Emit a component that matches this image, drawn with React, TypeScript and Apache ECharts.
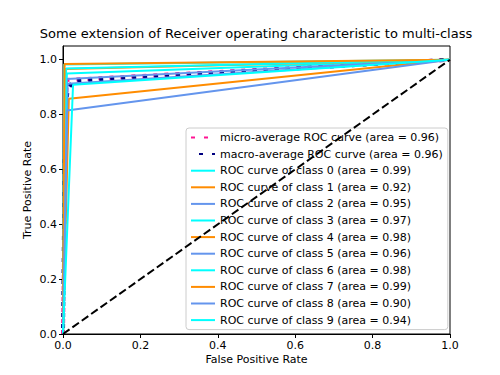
import React, { useEffect, useRef } from "react";
import * as echarts from "echarts";

const TITLE = "Some extension of Receiver operating characteristic to multi-class";
const X_NAME = "False Positive Rate";
const Y_NAME = "True Positive Rate";

const MICRO_POINTS: [number, number][] = [[0, 0], [0.009, 0.926], [1, 1]];
const MACRO_POINTS: [number, number][] = [
  [0, 0], [0.004, 0.6], [0.008, 0.84], [0.012, 0.89], [0.026, 0.923], [1, 1],
];

const CLASS_AREAS = [0.99, 0.92, 0.95, 0.97, 0.98, 0.96, 0.98, 0.99, 0.9, 0.94];
const CLASS_FPR = [0.003, 0.015, 0.012, 0.01, 0.006, 0.01, 0.008, 0.004, 0.01, 0.026];
const CLASS_TPR = [0.983, 0.858, 0.912, 0.95, 0.966, 0.93, 0.968, 0.984, 0.815, 0.909];
const CLASS_COLORS = ["#00ffff", "#ff8c00", "#6495ed"];

const DIAG: [number, number][] = [[0, 0], [1, 1]];

const FONT = "DejaVu Sans";

export default function App() {
  const ref = useRef<HTMLDivElement>(null);
  useEffect(() => {
    if (!ref.current) return;
    const chart = echarts.init(ref.current, undefined, { renderer: "svg" });
    const series: any[] = [];
    const legendData: any[] = [];
    const microName = "micro-average ROC curve (area = 0.96)";
    const macroName = "macro-average ROC curve (area = 0.96)";
    series.push({
      type: "line", name: microName, data: MICRO_POINTS, symbol: "none",
      color: "#ff1493",
      lineStyle: { color: "#ff1493", width: 4, type: [4, 7] },
    });
    series.push({
      type: "line", name: macroName, data: MACRO_POINTS, symbol: "none",
      color: "#000080",
      lineStyle: { color: "#000080", width: 4, type: [4, 7], dashOffset: 5 },
    });
    legendData.push(
      { name: microName, lineStyle: { type: [4, 9] } },
      { name: macroName, lineStyle: { type: [4, 9] } },
    );
    CLASS_AREAS.forEach((a, i) => {
      const name = `ROC curve of class ${i} (area = ${a.toFixed(2)})`;
      const c = CLASS_COLORS[i % 3];
      series.push({
        type: "line", name,
        data: [[0, 0], [CLASS_FPR[i], CLASS_TPR[i]], [1, 1]],
        symbol: "none", color: c,
        lineStyle: { color: c, width: 2 },
      });
      legendData.push(name);
    });
    series.push({
      type: "line", name: "diag", data: DIAG, symbol: "none", color: "#000",
      lineStyle: { color: "#000", width: 2, type: [8, 3.5] }, z: 5,
    });

    chart.setOption({
      animation: false,
      textStyle: { fontFamily: FONT },
      grid: {
        left: 63, top: 46, right: 50, bottom: 41,
        show: true, borderColor: "#000", borderWidth: 1, backgroundColor: "transparent",
      },
      xAxis: {
        type: "value", min: 0, max: 1, interval: 0.2,
        name: X_NAME, nameLocation: "middle", nameGap: 20, nameMoveOverlap: false,
        nameTextStyle: { fontSize: 11, color: "#000", fontFamily: FONT },
        axisLine: { show: true, onZero: false, lineStyle: { color: "#000", width: 1 } },
        axisTick: { show: true, inside: false, length: 4, lineStyle: { color: "#000" } },
        axisLabel: { fontSize: 11, color: "#000", margin: 6, fontFamily: FONT, formatter: (v: number) => v.toFixed(1) },
        splitLine: { show: false },
      },
      yAxis: {
        type: "value", min: 0, max: 1.05, interval: 0.2,
        name: Y_NAME, nameLocation: "middle", nameGap: 30, nameMoveOverlap: false,
        nameTextStyle: { fontSize: 11, color: "#000", fontFamily: FONT },
        axisLine: { show: true, onZero: false, lineStyle: { color: "#000", width: 1 } },
        axisTick: { show: true, inside: false, length: 4, lineStyle: { color: "#000" } },
        axisLabel: {
          fontSize: 11, color: "#000", margin: 6, fontFamily: FONT, showMaxLabel: false,
          formatter: (v: number) => (Math.abs(v * 5 - Math.round(v * 5)) < 1e-6 ? v.toFixed(1) : ""),
        },
        splitLine: { show: false },
      },
      legend: {
        data: legendData,
        orient: "vertical", left: 186, top: 128,
        itemWidth: 24, itemHeight: 10, itemGap: 5.6,
        padding: [4, 5, 4, 4],
        backgroundColor: "rgba(255,255,255,0.8)",
        borderColor: "#cccccc", borderWidth: 1, borderRadius: 3,
        itemStyle: { opacity: 0, borderWidth: 0 },
        textStyle: { fontSize: 11, color: "#000", fontFamily: FONT },
        selectedMode: false,
      },
      graphic: [
        {
          type: "text", x: 256, y: 33,
          style: {
            text: TITLE, fontSize: 13, fill: "#000", fontFamily: FONT,
            align: "center", verticalAlign: "middle",
          },
        },
      ],
      series,
    });
    return () => chart.dispose();
  }, []);
  return (
    <div
      ref={ref}
      style={{ position: "fixed", left: 0, top: 0, width: 500, height: 375, background: "#fff" }}
    />
  );
}
